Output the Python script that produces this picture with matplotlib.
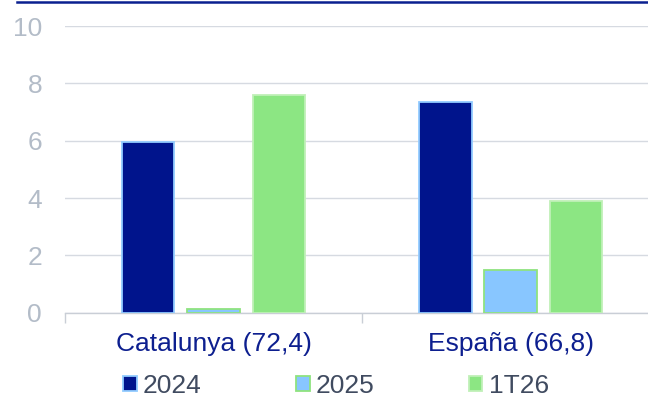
import matplotlib
matplotlib.use("Agg")
import matplotlib.pyplot as plt
import numpy as np
from matplotlib.patches import Patch
from matplotlib.lines import Line2D

# data
categories = ["Catalunya (72,4)", "España (66,8)"]
series = ["2024", "2025", "1T26"]
vals_2024 = [5.95, 7.35]
vals_2025 = [0.13, 1.5]
vals_1t26 = [7.6, 3.9]

plt.rcParams['font.family'] = ['Liberation Sans', 'DejaVu Sans']

navy = '#00148C'
lblue = '#88C6FF'
green = '#8CE683'
faces = [navy, lblue, green]
edges = ['#92CBFF', '#8FE37F', '#C0F0B8']

fig = plt.figure(figsize=(6.48, 4.0), dpi=100)
ax = fig.add_axes([65 / 648, 87.3 / 400, (659.3 - 65) / 648, (312.7 - 26.2) / 400])

x = np.arange(len(categories))
w = 0.177
off = 0.22
for i, v in enumerate([vals_2024, vals_2025, vals_1t26]):
    ax.bar(x + (i - 1) * off, v, width=w, color=faces[i], edgecolor=edges[i],
           linewidth=1.3, zorder=3)

ax.set_xlim(-0.5, 1.5)
ax.set_ylim(0, 10)
ax.set_yticks([0, 2, 4, 6, 8, 10])
ax.yaxis.grid(True, color='#D6DAE1', linewidth=1.0, zorder=0)
ax.set_axisbelow(True)
for s in ['top', 'right', 'left']:
    ax.spines[s].set_visible(False)
ax.spines['bottom'].set_color('#C9CED6')
ax.spines['bottom'].set_linewidth(1.0)

ax.tick_params(axis='y', length=0, pad=16.5, labelsize=19, labelcolor='#B3BCC8')
ax.set_xticks(x)
ax.set_xticklabels(categories)
ax.tick_params(axis='x', which='major', length=0, pad=14, labelsize=19, labelcolor='#0D1F8F')
ax.set_xticks([-0.5, 0.5, 1.5], minor=True)
ax.tick_params(axis='x', which='minor', length=7, width=1.0, color='#C9CED6')

# top rule
fig.add_artist(Line2D([17 / 648, 1.0], [1 - 2 / 400, 1 - 2 / 400], color='#0A2090', linewidth=1.8))

handles = [Patch(facecolor=faces[i], edgecolor=edges[i], linewidth=1.3) for i in range(3)]
fig.legend(handles, series, loc='center left', bbox_to_anchor=(123 / 648, 1 - 386 / 400),
           ncol=3, frameon=False, fontsize=19, handlelength=0.53, handleheight=0.53,
           handletextpad=0.23, columnspacing=3.56, borderpad=0, borderaxespad=0,
           labelcolor='#404B60')

fig.savefig('out.png', dpi=100)
